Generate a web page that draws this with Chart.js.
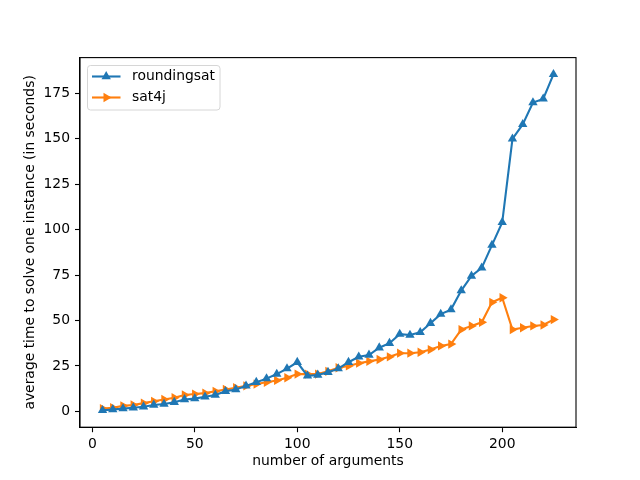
<!DOCTYPE html>
<html>
<head>
<meta charset="utf-8">
<script src="https://cdn.jsdelivr.net/npm/chart.js@4.4.1/dist/chart.umd.min.js"></script>
<style>
html,body{margin:0;padding:0;background:#fff;}
#wrap{width:640px;height:480px;position:relative;}
</style>
</head>
<body>
<div id="wrap"><canvas id="c" width="640" height="480"></canvas></div>
<script>
const xValues = [5,10,15,20,25,30,35,40,45,50,55,60,65,70,75,80,85,90,95,100,105,110,115,120,125,130,135,140,145,150,155,160,165,170,175,180,185,190,195,200,205,210,215,220,225];
const roundingsat = [0.5,1,1.5,2,2.5,3.5,4,5,6.5,7,8,9,11,12,14,16,18,20.5,23.5,27,19.5,20,21.5,23.5,27,30,31,35,37.5,42.5,42,43.5,48.5,53.5,56,66.5,74.5,79,91.5,104,150,158,170,172,185.5];
const sat4j = [1.5,2,3,3.5,4.5,5.5,6.5,7.5,9,9.5,10,11,12,13,14,15,16,17,18.5,20.5,20.5,20.5,22,24,25,26.5,27.5,28.5,30,32,32,32.5,34,36,37,45,47,49,60,62.5,45,46,47,47.5,50.5];
const xTicks = [0,50,100,150,200];
const yTicks = [0,25,50,75,100,125,150,175];
const seriesNames = ["roundingsat","sat4j"];
const xTitle = "number of arguments";
const yTitle = "average time to solve one instance (in seconds)";

const blue = '#1f77b4', orange = '#ff7f0e';
const FONT = "'DejaVu Sans', sans-serif";
const MR = 5.4;

const framePlugin = {
  id: 'frame',
  afterDatasetsDraw(chart) {
    const {ctx, chartArea: a} = chart;
    ctx.save();
    ctx.strokeStyle = '#000';
    ctx.lineWidth = 1.1;
    ctx.strokeRect(a.left, a.top, a.right - a.left, a.bottom - a.top);
    ctx.restore();
  },
  afterDraw(chart) {
    const {ctx} = chart;
    ctx.save();
    const x0 = 87.5, y0 = 65.5, w = 132.5, h = 44.5, r = 3;
    ctx.beginPath();
    ctx.moveTo(x0 + r, y0);
    ctx.arcTo(x0 + w, y0, x0 + w, y0 + h, r);
    ctx.arcTo(x0 + w, y0 + h, x0, y0 + h, r);
    ctx.arcTo(x0, y0 + h, x0, y0, r);
    ctx.arcTo(x0, y0, x0 + w, y0, r);
    ctx.closePath();
    ctx.fillStyle = 'rgba(255,255,255,0.8)';
    ctx.fill();
    ctx.strokeStyle = '#d6d6d6';
    ctx.lineWidth = 1;
    ctx.stroke();
    const rows = [
      {label: seriesNames[0], color: blue, rot: 0, y: 76.5},
      {label: seriesNames[1], color: orange, rot: 90, y: 97.5}
    ];
    rows.forEach(rw => {
      ctx.strokeStyle = rw.color;
      ctx.lineWidth = 2.1;
      ctx.beginPath();
      ctx.moveTo(92, rw.y);
      ctx.lineTo(120.5, rw.y);
      ctx.stroke();
      ctx.fillStyle = rw.color;
      Chart.helpers.drawPoint(ctx, {pointStyle: 'triangle', radius: MR, rotation: rw.rot, borderWidth: 0}, 106.2, rw.y);
      ctx.fillStyle = '#000';
      ctx.font = "13.9px " + FONT;
      ctx.textBaseline = 'middle';
      ctx.textAlign = 'left';
      ctx.fillText(rw.label, 132, rw.y);
    });
    ctx.restore();
  }
};

function pts(arr) { return xValues.map((x, i) => ({x: x, y: arr[i]})); }

new Chart(document.getElementById('c'), {
  type: 'line',
  data: {
    datasets: [
      {label: seriesNames[0], data: pts(roundingsat), borderColor: blue, backgroundColor: blue,
       borderWidth: 2.1, pointStyle: 'triangle', pointRadius: MR, pointBorderWidth: 0, pointRotation: 0, tension: 0},
      {label: seriesNames[1], data: pts(sat4j), borderColor: orange, backgroundColor: orange,
       borderWidth: 2.1, pointStyle: 'triangle', pointRadius: MR, pointBorderWidth: 0, pointRotation: 90, tension: 0}
    ]
  },
  options: {
    responsive: false,
    animation: false,
    devicePixelRatio: 1,
    layout: {padding: {left: 0, right: 64, top: 57.6, bottom: 0}},
    plugins: {legend: {display: false}, tooltip: {enabled: false}},
    scales: {
      x: {
        type: 'linear', min: -6, max: 236,
        afterBuildTicks: s => { s.ticks = xTicks.map(v => ({value: v})); },
        afterFit: s => { s.height = 52.8; },
        grid: {drawOnChartArea: false, drawTicks: true, tickLength: 5, tickColor: '#000', tickWidth: 1.1},
        border: {display: true, color: '#000', width: 1.1},
        ticks: {color: '#000', font: {family: FONT, size: 13.9}, padding: 4, maxRotation: 0},
        title: {display: true, text: xTitle, color: '#000', font: {family: FONT, size: 13.9}, padding: {top: 0, bottom: 10}}
      },
      y: {
        type: 'linear', min: -8.75, max: 194.75,
        afterBuildTicks: s => { s.ticks = yTicks.map(v => ({value: v})); },
        afterFit: s => { s.width = 80; },
        grid: {drawOnChartArea: false, drawTicks: true, tickLength: 5, tickColor: '#000', tickWidth: 1.1},
        border: {display: true, color: '#000', width: 1.1},
        ticks: {color: '#000', font: {family: FONT, size: 13.9}, padding: 5},
        title: {display: true, text: yTitle, color: '#000', font: {family: FONT, size: 13.9}, padding: {top: 22, bottom: 0}}
      }
    }
  },
  plugins: [framePlugin]
});
</script>
</body>
</html>
